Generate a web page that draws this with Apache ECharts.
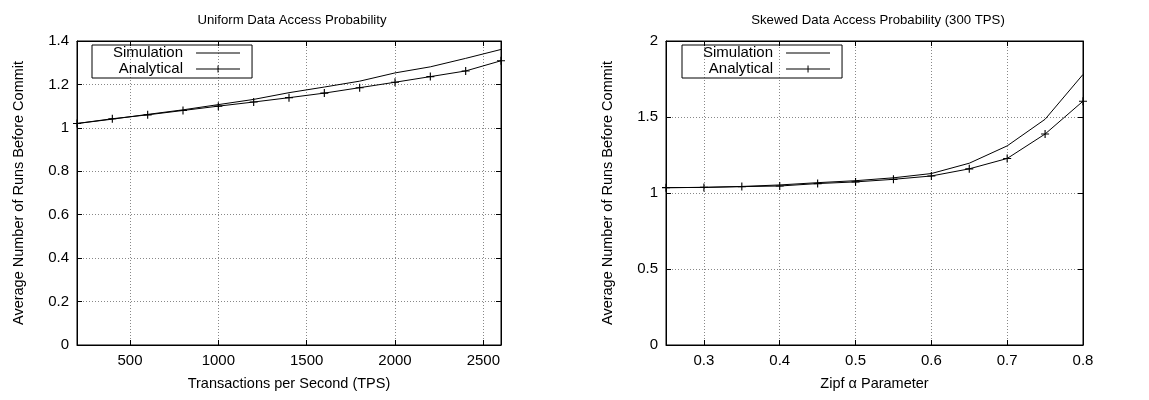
<!DOCTYPE html>
<html>
<head>
<meta charset="utf-8">
<script src="https://cdn.jsdelivr.net/npm/echarts@6/dist/echarts.min.js"></script>
<style>
html,body{margin:0;padding:0;background:#fff;}
#c{width:1149px;height:400px;}
</style>
</head>
<body>
<div id="c"></div>
<script>
// ---- Data ----
const tpsValues = [200, 400, 600, 800, 1000, 1200, 1400, 1600, 1800, 2000, 2200, 2400, 2600];
const uniformSimulation = [1.02, 1.04, 1.062, 1.083, 1.107, 1.131, 1.162, 1.188, 1.215, 1.253, 1.281, 1.32, 1.361];
const uniformAnalytical = [1.02, 1.042, 1.06, 1.08, 1.10, 1.119, 1.139, 1.16, 1.185, 1.21, 1.236, 1.262, 1.309];

const zipfValues = [0.25, 0.3, 0.35, 0.4, 0.45, 0.5, 0.55, 0.6, 0.65, 0.7, 0.75, 0.8];
const skewedSimulation = [1.035, 1.037, 1.043, 1.053, 1.068, 1.081, 1.10, 1.128, 1.196, 1.31, 1.485, 1.78];
const skewedAnalytical = [1.035, 1.037, 1.042, 1.046, 1.062, 1.073, 1.09, 1.112, 1.159, 1.227, 1.388, 1.604];

const tpsTicks = [500, 1000, 1500, 2000, 2500];
const zipfTicks = [0.3, 0.4, 0.5, 0.6, 0.7, 0.8];

const titles = ['Uniform Data Access Probability', 'Skewed Data Access Probability (300 TPS)'];
const xNames = ['Transactions per Second (TPS)', 'Zipf \u03b1 Parameter'];
const yName = 'Average Number of Runs Before Commit';
const seriesNames = ['Simulation', 'Analytical'];

// ---- Chart ----
const FONT = 'Liberation Sans, Arial, Helvetica, sans-serif';
const plus = 'path://M0,4.3H10V5.7H0Z M4.3,0H5.7V10H4.3Z';
const iconLine = 'path://M0,0M52,16M8,7.5H52V8.5H8Z';
const iconLinePlus = 'path://M0,0M52,16M8,7.5H52V8.5H8Z M29.5,4.5H30.5V11.5H29.5Z';
const chart = echarts.init(document.getElementById('c'), null, {renderer: 'canvas'});

const grids = [
  {left: 77, right: 648, top: 41, bottom: 55, show: true, borderColor: '#000', borderWidth: 1},
  {left: 666, right: 66, top: 41, bottom: 55, show: true, borderColor: '#000', borderWidth: 1}
];

function xAxisMain(gi, min, max, ticks, name) {
  return {
    type: 'value', gridIndex: gi, min: min, max: max, position: 'bottom',
    name: name, nameLocation: 'middle', nameGap: 31,
    nameTextStyle: {fontFamily: FONT, fontSize: 14.5, color: '#000'},
    axisLine: {show: true, onZero: false, lineStyle: {color: '#000', width: 1}},
    axisTick: {show: true, inside: true, length: 5, customValues: ticks, lineStyle: {color: '#000'}},
    axisLabel: {customValues: ticks, margin: 8, fontFamily: FONT, fontSize: 15, color: '#000',
                formatter: v => String(v)},
    splitLine: {show: true, lineStyle: {color: '#888', type: [1, 2], width: 1}}
  };
}
function xAxisMirror(gi, min, max, ticks) {
  return {
    type: 'value', gridIndex: gi, min: min, max: max, position: 'top',
    axisLine: {show: true, onZero: false, lineStyle: {color: '#000'}},
    axisTick: {show: true, inside: true, length: 5, customValues: ticks, lineStyle: {color: '#000'}},
    axisLabel: {show: false}, splitLine: {show: false}
  };
}
function yAxisMain(gi, max, interval) {
  return {
    type: 'value', gridIndex: gi, min: 0, max: max, interval: interval, position: 'left',
    name: yName, nameLocation: 'middle', nameGap: 51, nameRotate: 90,
    nameTextStyle: {fontFamily: FONT, fontSize: 14.5, color: '#000'},
    axisLine: {show: true, onZero: false, lineStyle: {color: '#000'}},
    axisTick: {show: true, inside: true, length: 5, lineStyle: {color: '#000'}},
    axisLabel: {margin: 8, fontFamily: FONT, fontSize: 15, color: '#000', formatter: v => String(v)},
    splitLine: {show: true, lineStyle: {color: '#888', type: [1, 2], width: 1}}
  };
}
function yAxisMirror(gi, max, interval) {
  return {
    type: 'value', gridIndex: gi, min: 0, max: max, interval: interval, position: 'right',
    axisLine: {show: true, onZero: false, lineStyle: {color: '#000'}},
    axisTick: {show: true, inside: true, length: 5, lineStyle: {color: '#000'}},
    axisLabel: {show: false}, splitLine: {show: false}
  };
}

function pairs(xs, ys) { return xs.map((x, i) => [x, ys[i]]); }

function lineSeries(name, xi, yi, data, withMarker) {
  return {
    name: name, type: 'line', xAxisIndex: xi, yAxisIndex: yi, data: data,
    showSymbol: withMarker, symbol: withMarker ? plus : 'none', symbolSize: 8,
    itemStyle: {color: '#000', borderWidth: 0},
    lineStyle: {color: '#000', width: 1},
    emphasis: {disabled: true}, silent: true
  };
}

function legend(left) {
  return {
    orient: 'vertical', left: left, top: 45, align: 'right',
    data: [
      {name: seriesNames[0], icon: iconLine},
      {name: seriesNames[1], icon: iconLinePlus}
    ],
    borderColor: '#000', borderWidth: 1, borderRadius: 0,
    padding: [0, 12, 1, 21], itemGap: 0, itemWidth: 52, itemHeight: 16,
    itemStyle: {color: '#000', borderWidth: 0},
    textStyle: {fontFamily: FONT, fontSize: 15, lineHeight: 16, color: '#000'},
    selectedMode: false
  };
}

chart.setOption({
  animation: false,
  backgroundColor: '#fff',
  title: [
    {text: titles[0], left: 287, top: 9, textAlign: 'center',
     textStyle: {fontFamily: FONT, fontSize: 13.2, fontWeight: 'normal', color: '#000'}},
    {text: titles[1], left: 873, top: 9, textAlign: 'center',
     textStyle: {fontFamily: FONT, fontSize: 13.2, fontWeight: 'normal', color: '#000'}}
  ],
  legend: [legend(92), legend(682)],
  grid: grids,
  xAxis: [
    xAxisMain(0, 200, 2600, tpsTicks, xNames[0]),
    xAxisMirror(0, 200, 2600, tpsTicks),
    xAxisMain(1, 0.25, 0.8, zipfTicks, xNames[1]),
    xAxisMirror(1, 0.25, 0.8, zipfTicks)
  ],
  yAxis: [
    yAxisMain(0, 1.4, 0.2),
    yAxisMirror(0, 1.4, 0.2),
    yAxisMain(1, 2, 0.5),
    yAxisMirror(1, 2, 0.5)
  ],
  series: [
    lineSeries(seriesNames[0], 0, 0, pairs(tpsValues, uniformSimulation), false),
    lineSeries(seriesNames[1], 0, 0, pairs(tpsValues, uniformAnalytical), true),
    lineSeries(seriesNames[0], 2, 2, pairs(zipfValues, skewedSimulation), false),
    lineSeries(seriesNames[1], 2, 2, pairs(zipfValues, skewedAnalytical), true)
  ]
});
</script>
</body>
</html>
